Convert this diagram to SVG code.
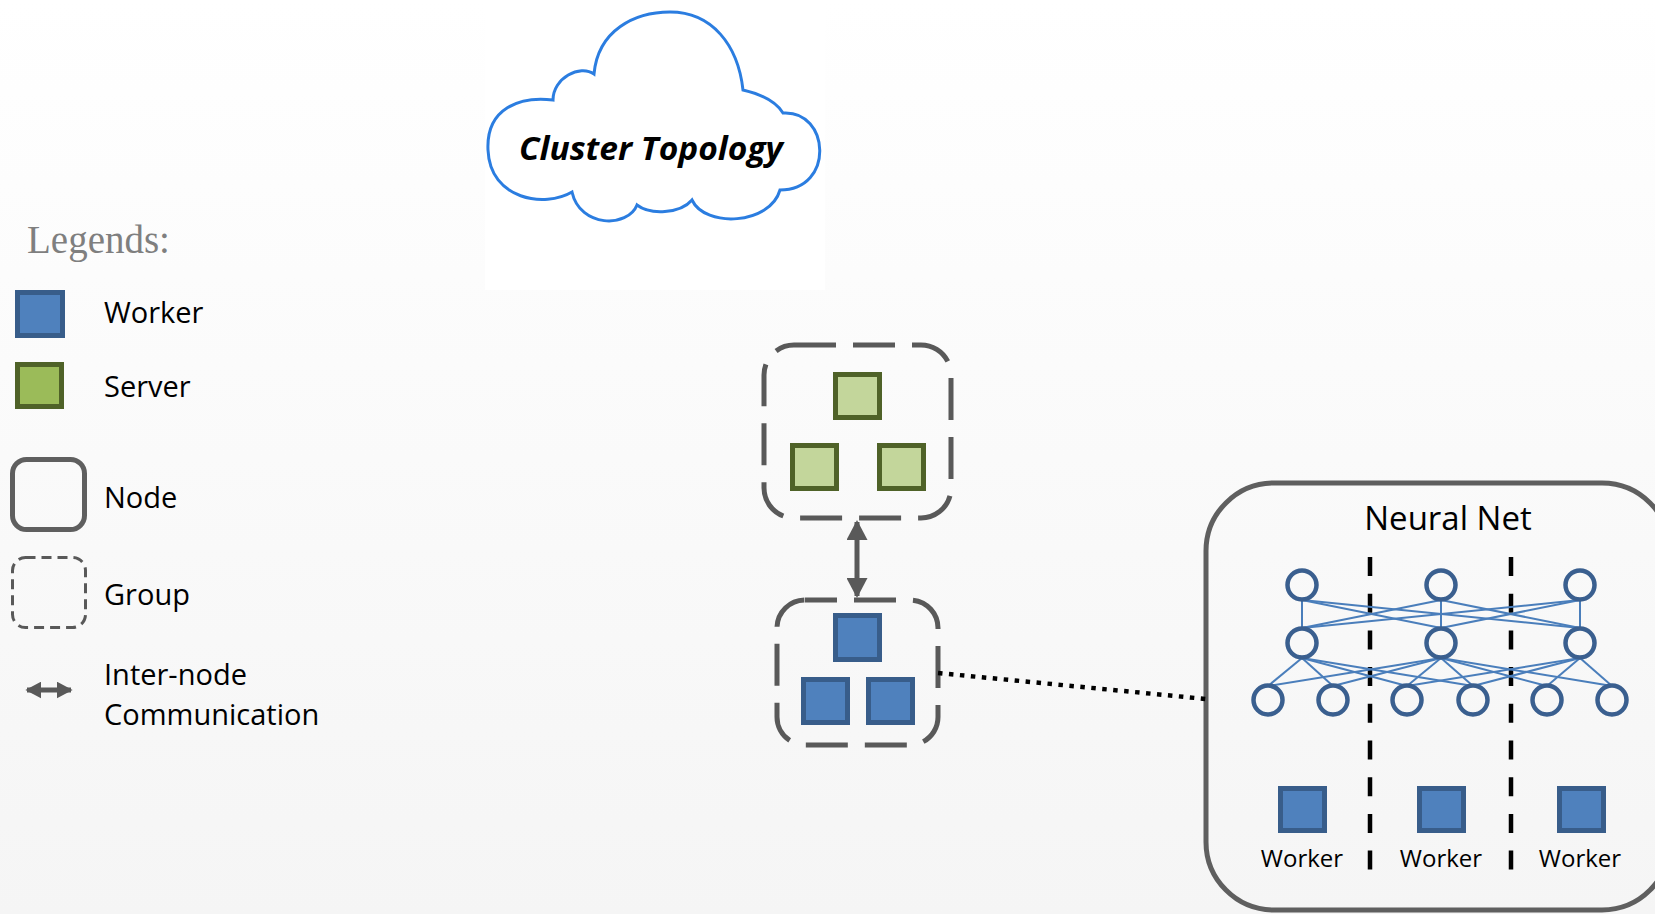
<svg xmlns="http://www.w3.org/2000/svg" width="1655" height="914" viewBox="0 0 1655 914">
  <style>
    .lbl { font-family: "Open Sans", "Liberation Sans", sans-serif; fill: #000; }
    .key { font-size: 29px; }
    .worker { fill: #4f81bd; stroke: #385d8a; stroke-width: 5; }
    .server { fill: #9bbb59; stroke: #4f6228; stroke-width: 5; }
    .server-lt { fill: #c3d69b; stroke: #4f6228; stroke-width: 5; }
    .group { fill: none; stroke: #595959; stroke-width: 5; stroke-dasharray: 42 17; }
    .node { fill: none; stroke: #5f5f5f; stroke-width: 5; }
    .neuron { fill: none; stroke: #3a5f8f; stroke-width: 4.5; }
    .syn { stroke: #4a7ebb; stroke-width: 2; }
    .split { stroke: #000; stroke-width: 4.5; stroke-dasharray: 19 17.7; }
  </style>
  <defs>
    <linearGradient id="bg" x1="0" y1="0" x2="0" y2="1">
      <stop offset="0" stop-color="#ffffff"/>
      <stop offset="1" stop-color="#f5f5f5"/>
    </linearGradient>
    <marker id="head" viewBox="0 0 10 10" refX="9" refY="5" markerWidth="20" markerHeight="21" markerUnits="userSpaceOnUse" orient="auto-start-reverse" preserveAspectRatio="none">
      <path d="M0,0 L10,5 L0,10 Z" fill="#595959"/>
    </marker>
    <marker id="headS" viewBox="0 0 10 10" refX="9" refY="5" markerWidth="16" markerHeight="17" markerUnits="userSpaceOnUse" orient="auto-start-reverse" preserveAspectRatio="none">
      <path d="M0,0 L10,5 L0,10 Z" fill="#595959"/>
    </marker>
  </defs>

  <rect width="1655" height="914" fill="url(#bg)"/>

  <!-- title cloud -->
  <g id="cloud">
    <rect x="485" y="0" width="340" height="290" fill="#ffffff"/>
    <path d="M553,100 C553,78 580,64 594,74 C598,30 635,12 670,12 C712,12 738,45 743,90 C760,94 775,100 783,113 C830,110 835,190 780,190 C770,225 705,228 692,200 C680,214 650,215 637,205 C628,228 580,228 572,192 C545,208 490,200 488,150 C486,108 520,96 553,100 Z" fill="#ffffff" stroke="#2b7de0" stroke-width="3"/>
    <text x="519" y="160" class="lbl" font-size="33" font-weight="bold" font-style="italic" textLength="264" lengthAdjust="spacingAndGlyphs">Cluster Topology</text>
  </g>

  <!-- legend -->
  <g id="legend">
    <text x="27" y="253" font-family="'Liberation Serif', serif" font-size="39" fill="#7f7f7f">Legends:</text>
    <rect x="17.5" y="292.5" width="45" height="43" class="worker"/>
    <text x="104" y="323" class="lbl key">Worker</text>
    <rect x="17.5" y="364.5" width="44" height="42" class="server"/>
    <text x="104" y="397" class="lbl key">Server</text>
    <rect x="12.5" y="459.5" width="72" height="70" rx="14" class="node"/>
    <text x="104" y="508" class="lbl key">Node</text>
    <rect x="12.5" y="557.5" width="73" height="70" rx="13" fill="none" stroke="#595959" stroke-width="3" stroke-dasharray="10 6"/>
    <text x="104" y="605" class="lbl key">Group</text>
    <line x1="27" y1="690" x2="71" y2="690" stroke="#595959" stroke-width="5" marker-start="url(#headS)" marker-end="url(#headS)"/>
    <text x="104" y="685" class="lbl key">Inter-node</text>
    <text x="104" y="725" class="lbl key">Communication</text>
  </g>

  <!-- server group -->
  <g id="server-group">
    <rect x="764" y="345" width="187" height="173" rx="30" class="group"/>
    <rect x="835.5" y="374.5" width="44" height="43" class="server-lt"/>
    <rect x="792.5" y="445.5" width="44" height="43" class="server-lt"/>
    <rect x="879.5" y="445.5" width="44" height="43" class="server-lt"/>
  </g>

  <!-- worker group -->
  <g id="worker-group">
    <rect x="777" y="600" width="161" height="145" rx="28" class="group" stroke-dashoffset="10"/>
    <rect x="835.5" y="615.5" width="44" height="44" class="worker"/>
    <rect x="803.5" y="679.5" width="44" height="43" class="worker"/>
    <rect x="868.5" y="679.5" width="44" height="43" class="worker"/>
  </g>

  <!-- neural net node -->
  <g id="neural-net">
    <rect x="1206" y="483" width="464" height="427" rx="68" class="node"/>
    <text x="1448" y="530" class="lbl" font-size="33" text-anchor="middle">Neural Net</text>
    <line x1="1370" y1="557" x2="1370" y2="873" class="split"/>
    <line x1="1511" y1="557" x2="1511" y2="873" class="split"/>
    <!-- synapses: layer 1 to layer 2 -->
    <g class="syn">
      <line x1="1302" y1="600" x2="1302" y2="628"/>
      <line x1="1302" y1="600" x2="1441" y2="628"/>
      <line x1="1302" y1="600" x2="1580" y2="628"/>
      <line x1="1441" y1="600" x2="1302" y2="628"/>
      <line x1="1441" y1="600" x2="1441" y2="628"/>
      <line x1="1441" y1="600" x2="1580" y2="628"/>
      <line x1="1580" y1="600" x2="1302" y2="628"/>
      <line x1="1580" y1="600" x2="1441" y2="628"/>
      <line x1="1580" y1="600" x2="1580" y2="628"/>
      <!-- layer 2 to layer 3 -->
      <line x1="1302" y1="658" x2="1268" y2="686"/>
      <line x1="1302" y1="658" x2="1333" y2="686"/>
      <line x1="1302" y1="658" x2="1407" y2="686"/>
      <line x1="1302" y1="658" x2="1473" y2="686"/>
      <line x1="1441" y1="658" x2="1268" y2="686"/>
      <line x1="1441" y1="658" x2="1333" y2="686"/>
      <line x1="1441" y1="658" x2="1407" y2="686"/>
      <line x1="1441" y1="658" x2="1473" y2="686"/>
      <line x1="1441" y1="658" x2="1547" y2="686"/>
      <line x1="1441" y1="658" x2="1612" y2="686"/>
      <line x1="1580" y1="658" x2="1407" y2="686"/>
      <line x1="1580" y1="658" x2="1473" y2="686"/>
      <line x1="1580" y1="658" x2="1547" y2="686"/>
      <line x1="1580" y1="658" x2="1612" y2="686"/>
    </g>
    <g class="neuron">
      <circle cx="1302" cy="585" r="14.5"/>
      <circle cx="1441" cy="585" r="14.5"/>
      <circle cx="1580" cy="585" r="14.5"/>
      <circle cx="1302" cy="643" r="14.5"/>
      <circle cx="1441" cy="643" r="14.5"/>
      <circle cx="1580" cy="643" r="14.5"/>
      <circle cx="1268" cy="700" r="14.5"/>
      <circle cx="1333" cy="700" r="14.5"/>
      <circle cx="1407" cy="700" r="14.5"/>
      <circle cx="1473" cy="700" r="14.5"/>
      <circle cx="1547" cy="700" r="14.5"/>
      <circle cx="1612" cy="700" r="14.5"/>
    </g>
    <rect x="1280.5" y="788.5" width="44" height="42" class="worker"/>
    <rect x="1419.5" y="788.5" width="44" height="42" class="worker"/>
    <rect x="1559.5" y="788.5" width="44" height="42" class="worker"/>
    <text x="1302" y="867" class="lbl" font-size="24" text-anchor="middle">Worker</text>
    <text x="1441" y="867" class="lbl" font-size="24" text-anchor="middle">Worker</text>
    <text x="1580" y="867" class="lbl" font-size="24" text-anchor="middle">Worker</text>
  </g>

  <!-- connectors -->
  <g id="connectors">
    <line x1="857" y1="522" x2="857" y2="596" stroke="#595959" stroke-width="5" marker-start="url(#head)" marker-end="url(#head)"/>
    <line x1="938" y1="673" x2="1206" y2="699" stroke="#000" stroke-width="4.5" stroke-dasharray="4.5 6.5"/>
  </g>
</svg>
